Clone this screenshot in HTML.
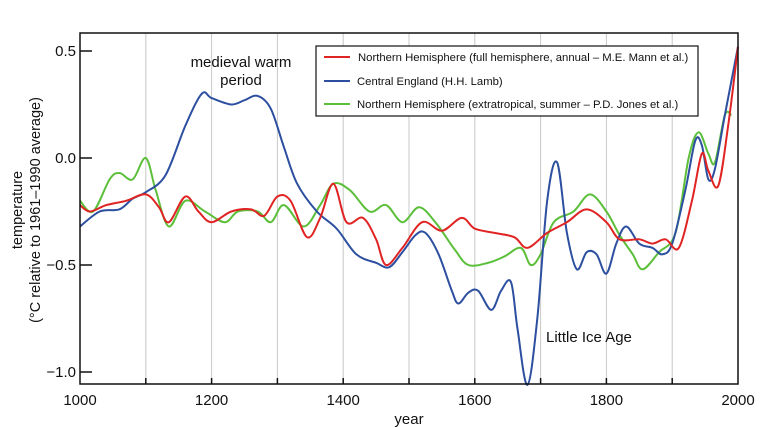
<!DOCTYPE html>
<html><head><meta charset="utf-8"><style>
html,body{margin:0;padding:0;background:#fff;width:763px;height:428px;overflow:hidden}
text{font-family:"Liberation Sans",sans-serif;fill:#111}
</style></head><body>
<svg id="s" width="763" height="428" viewBox="0 0 763 428">
<g stroke="#c8c8c8" stroke-width="1">
<line x1="145.8" y1="33" x2="145.8" y2="384"/><line x1="211.6" y1="33" x2="211.6" y2="384"/>
<line x1="277.4" y1="33" x2="277.4" y2="384"/><line x1="343.2" y1="33" x2="343.2" y2="384"/>
<line x1="409" y1="33" x2="409" y2="384"/><line x1="474.8" y1="33" x2="474.8" y2="384"/>
<line x1="540.6" y1="33" x2="540.6" y2="384"/><line x1="606.4" y1="33" x2="606.4" y2="384"/>
<line x1="672.2" y1="33" x2="672.2" y2="384"/>
</g>
<g id="series" fill="none" stroke-width="2"></g>
<rect x="80" y="33" width="658" height="351" fill="none" stroke="#111" stroke-width="1.5"/>
<g stroke="#111" stroke-width="1.5">
<line x1="80" y1="51" x2="92" y2="51"/><line x1="80" y1="158" x2="92" y2="158"/>
<line x1="80" y1="265" x2="92" y2="265"/><line x1="80" y1="372" x2="92" y2="372"/>
<line x1="145.8" y1="384" x2="145.8" y2="378"/><line x1="211.6" y1="384" x2="211.6" y2="378"/>
<line x1="277.4" y1="384" x2="277.4" y2="378"/><line x1="343.2" y1="384" x2="343.2" y2="378"/>
<line x1="409" y1="384" x2="409" y2="378"/><line x1="474.8" y1="384" x2="474.8" y2="378"/>
<line x1="540.6" y1="384" x2="540.6" y2="378"/><line x1="606.4" y1="384" x2="606.4" y2="378"/>
<line x1="672.2" y1="384" x2="672.2" y2="378"/>
</g>
<g font-size="15" text-anchor="end">
<text x="76" y="56">0.5</text><text x="76" y="163">0.0</text>
<text x="76" y="270">−0.5</text><text x="76" y="377">−1.0</text>
</g>
<g font-size="15" text-anchor="middle">
<text x="80" y="405">1000</text><text x="211.6" y="405">1200</text><text x="343.2" y="405">1400</text>
<text x="474.8" y="405">1600</text><text x="606.4" y="405">1800</text><text x="738" y="405">2000</text>
<text x="409" y="424">year</text>
<text x="241" y="67">medieval warm</text><text x="241" y="85">period</text>
</g>
<text x="546" y="342" font-size="15">Little Ice Age</text>
<g font-size="14.5" text-anchor="middle">
<text transform="translate(22,210) rotate(-90)">temperature</text>
<text transform="translate(40,210) rotate(-90)">(°C relative to 1961–1990 average)</text>
</g>
<rect x="316" y="46" width="382" height="70" fill="#fff" stroke="#111" stroke-width="1.2"/>
<g stroke-width="2">
<line x1="324" y1="57" x2="350" y2="57" stroke="#e02424"/>
<line x1="324" y1="81" x2="350" y2="81" stroke="#2d4fa0"/>
<line x1="324" y1="104" x2="350" y2="104" stroke="#5cbf3a"/>
</g>
<g font-size="11.3">
<text x="358" y="61">Northern Hemisphere (full hemisphere, annual – M.E. Mann et al.)</text>
<text x="357" y="85">Central England (H.H. Lamb)</text>
<text x="357" y="108">Northern Hemisphere (extratropical, summer – P.D. Jones et al.)</text>
</g>
</svg>
<script>
function X(y){return 80+0.658*(y-1000)}function Y(v){return 158-214*v}
function path(d){var p=[];for(var i=0;i<d.length;i+=2)p.push([X(d[i]),Y(d[i+1])]);
var s="M"+p[0][0]+","+p[0][1];for(var i=0;i<p.length-1;i++){var p0=p[i-1]||p[i],p1=p[i],p2=p[i+1],p3=p[i+2]||p2;
s+=" C"+(p1[0]+(p2[0]-p0[0])/6)+","+(p1[1]+(p2[1]-p0[1])/6)+" "+(p2[0]-(p3[0]-p1[0])/6)+","+(p2[1]-(p3[1]-p1[1])/6)+" "+p2[0]+","+p2[1];}return s;}
var G=[1000,-.2,1020,-.25,1045,-.1,1060,-.07,1080,-.1,1100,0,1115,-.15,1135,-.32,1160,-.2,1190,-.25,1220,-.3,1240,-.25,1270,-.25,1290,-.3,1310,-.22,1340,-.32,1365,-.22,1385,-.12,1410,-.15,1440,-.25,1465,-.22,1490,-.3,1515,-.23,1540,-.3,1570,-.43,1590,-.5,1620,-.49,1645,-.46,1670,-.42,1685,-.5,1700,-.45,1720,-.3,1750,-.25,1775,-.17,1800,-.25,1820,-.36,1840,-.45,1855,-.52,1880,-.44,1905,-.35,1925,0,1940,.12,1955,.02,1965,-.02,1980,.2,1990,.2];
var B=[1000,-.32,1030,-.25,1060,-.24,1080,-.19,1100,-.16,1130,-.08,1160,.15,1185,.3,1200,.28,1230,.25,1250,.27,1270,.29,1290,.23,1310,.05,1330,-.12,1360,-.25,1390,-.33,1420,-.45,1450,-.49,1470,-.51,1490,-.44,1510,-.36,1525,-.35,1545,-.45,1565,-.62,1575,-.68,1590,-.63,1605,-.62,1625,-.71,1640,-.62,1655,-.58,1665,-.8,1680,-1.06,1695,-.75,1710,-.2,1725,-.02,1740,-.35,1755,-.52,1770,-.44,1785,-.45,1800,-.54,1815,-.4,1830,-.32,1850,-.4,1870,-.42,1885,-.45,1900,-.4,1920,-.15,1935,.08,1945,.06,1955,-.1,1965,-.05,1980,.2,2000,.52];
var R=[1000,-.22,1015,-.25,1040,-.22,1070,-.2,1100,-.17,1120,-.23,1135,-.3,1160,-.18,1180,-.25,1200,-.3,1230,-.25,1260,-.24,1280,-.27,1300,-.18,1320,-.2,1345,-.37,1365,-.28,1385,-.12,1405,-.3,1430,-.28,1450,-.38,1465,-.5,1490,-.42,1520,-.3,1550,-.34,1580,-.28,1600,-.33,1630,-.35,1660,-.37,1680,-.42,1710,-.35,1740,-.3,1770,-.24,1800,-.3,1820,-.38,1850,-.38,1870,-.4,1890,-.38,1910,-.42,1930,-.2,1945,.02,1955,-.06,1970,-.13,1985,.15,2000,.52];
var g=document.getElementById("series"),ns="http://www.w3.org/2000/svg";
[[G,"#5cbf3a"],[B,"#2d4fa0"],[R,"#e02424"]].forEach(function(a){var e=document.createElementNS(ns,"path");e.setAttribute("d",path(a[0]));e.setAttribute("stroke",a[1]);g.appendChild(e);});
</script>
</body></html>
